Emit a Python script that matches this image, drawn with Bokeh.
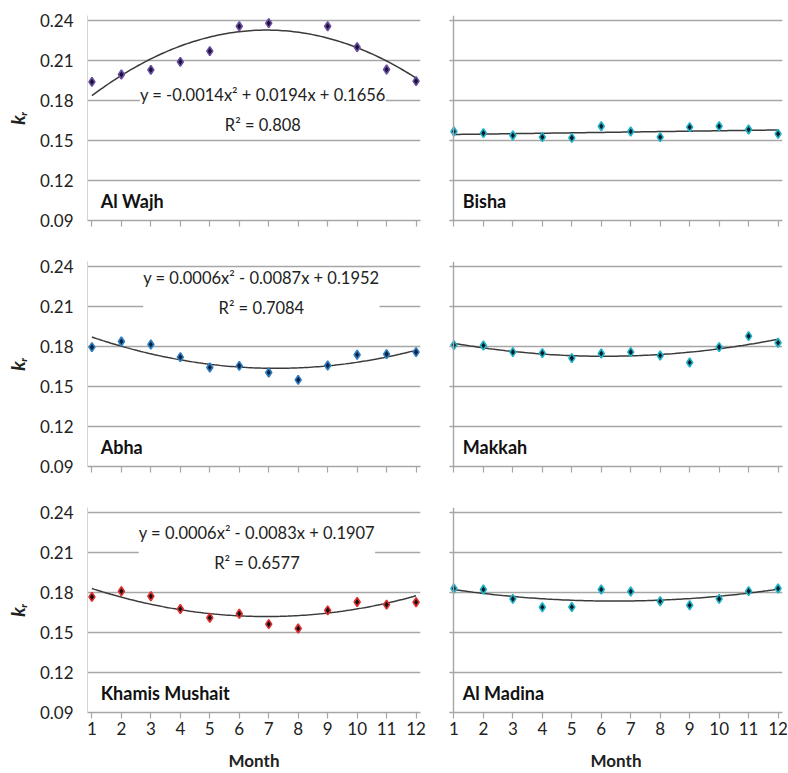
import numpy as np
from bokeh.plotting import figure
from bokeh.layouts import gridplot
from bokeh.models import Range1d, FixedTicker, Label
from bokeh.embed import file_html
from bokeh.resources import INLINE

# ---------------- data ----------------
months = [1, 2, 3, 4, 5, 6, 7, 8, 9, 10, 11, 12]
month_labels = ["1", "2", "3", "4", "5", "6", "7", "8", "9", "10", "11", "12"]
y_ticks = [0.09, 0.12, 0.15, 0.18, 0.21, 0.24]
y_tick_labels = ["0.09", "0.12", "0.15", "0.18", "0.21", "0.24"]

al_wajh = [0.194, 0.1995, 0.203, 0.209, 0.217, 0.2357, 0.238, float("nan"),
           0.2357, 0.220, 0.2033, 0.1945]
bisha = [0.1568, 0.1555, 0.1538, 0.1525, 0.152, 0.1607, 0.1568, 0.1525,
         0.160, 0.1607, 0.1583, 0.155]
abha = [0.1795, 0.1838, 0.1815, 0.172, 0.1643, 0.1655, 0.1605, 0.155,
        0.1658, 0.1738, 0.1743, 0.1758]
makkah = [0.181, 0.1808, 0.1758, 0.175, 0.1713, 0.1748, 0.1758, 0.1733,
          0.168, 0.1795, 0.1878, 0.1828]
khamis = [0.1767, 0.1809, 0.1772, 0.1676, 0.1611, 0.1641, 0.1563, 0.153,
          0.1666, 0.1729, 0.1709, 0.1727]
al_madina = [0.183, 0.1822, 0.1752, 0.1689, 0.1691, 0.1822, 0.1807, 0.1734,
             0.1704, 0.1752, 0.181, 0.183]

# trendline coefficients printed on the chart (a, b, c of a x^2 + b x + c)
coef_al_wajh = [-0.0014, 0.0194, 0.1656]
coef_abha = [0.0006, -0.0087, 0.1952]
coef_khamis = [0.0006, -0.0083, 0.1907]

eq_al_wajh = "y = -0.0014x² + 0.0194x + 0.1656\nR² = 0.808"
eq_abha = "y = 0.0006x² - 0.0087x + 0.1952\nR² = 0.7084"
eq_khamis = "y = 0.0006x² - 0.0083x + 0.1907\nR² = 0.6577"

stations = ["Al Wajh", "Bisha", "Abha", "Makkah", "Khamis Mushait", "Al Madina"]

FONT = "Lato"
GRID = "#a6a6a6"


def fit_coefs(vals, deg):
    x = np.array(months, dtype=float)
    y = np.array(vals, dtype=float)
    m = ~np.isnan(y)
    c = np.polyfit(x[m], y[m], deg)
    if deg == 1:
        c = np.concatenate([[0.0], c])
    return list(c)


def panel(vals, coefs, name, fill, edge, left, bottom, eq=None, eq_pos=None):
    pad_x = 0.15
    pad_y = 0.00375
    if left:
        width, mbl, mbr = 430, 87, 10
    else:
        width, mbl, mbr = 358, 19, 6
    height = 281 if bottom else 246
    mbb = 61 if bottom else 26
    p = figure(width=width, height=height, output_backend="svg",
               toolbar_location=None,
               x_range=Range1d(months[0] - pad_x, months[-1] + pad_x),
               y_range=Range1d(y_ticks[0], y_ticks[-1] + pad_y),
               min_border_left=mbl, min_border_right=mbr,
               min_border_top=15, min_border_bottom=mbb)
    p.outline_line_color = None
    p.background_fill_color = "white"
    p.border_fill_color = "white"
    p.xgrid.visible = False
    p.ygrid.ticker = FixedTicker(ticks=y_ticks)
    p.ygrid.grid_line_color = GRID
    p.ygrid.grid_line_width = 1.4

    # x axis
    xa = p.xaxis[0]
    xa.ticker = FixedTicker(ticks=months)
    xa.major_label_overrides = {m: l for m, l in zip(months, month_labels)}
    xa.axis_line_color = GRID
    xa.axis_line_width = 1.4
    xa.major_tick_line_color = GRID
    xa.major_tick_line_width = 1.2
    xa.major_tick_in = 0
    xa.major_tick_out = 6
    xa.minor_tick_line_color = None
    xa.major_label_text_font = FONT
    if bottom:
        xa.major_label_text_font_size = "17px"
        xa.major_label_text_color = "#222222"
        xa.major_label_standoff = 3
        xa.axis_label = "Month"
        xa.axis_label_text_font = FONT
        xa.axis_label_text_font_style = "bold"
        xa.axis_label_text_font_size = "17px"
        xa.axis_label_text_color = "#222222"
        xa.axis_label_standoff = 12
    else:
        xa.major_label_text_font_size = "6px"
        xa.major_label_text_alpha = 0
        xa.major_label_standoff = 2

    # y axis
    ya = p.yaxis[0]
    ya.ticker = FixedTicker(ticks=y_ticks)
    ya.major_label_overrides = {t: l for t, l in zip(y_ticks, y_tick_labels)}
    ya.minor_tick_line_color = None
    ya.major_tick_in = 0
    ya.major_tick_out = 5
    if left:
        ya.axis_line_color = "#d4d4d4"
        ya.major_tick_line_color = None
        ya.major_label_text_font = FONT
        ya.major_label_text_font_size = "17px"
        ya.major_label_text_color = "#222222"
        ya.major_label_standoff = 9
        ya.axis_label = "kᵣ"
        ya.axis_label_text_font = FONT
        ya.axis_label_text_font_style = "bold italic"
        ya.axis_label_text_font_size = "19px"
        ya.axis_label_text_color = "#222222"
        ya.axis_label_standoff = 8
    else:
        ya.fixed_location = months[0]
        ya.axis_line_color = GRID
        ya.axis_line_width = 1.4
        ya.major_tick_line_color = GRID
        ya.major_tick_line_width = 1.2
        ya.major_label_text_font_size = "1px"
        ya.major_label_text_alpha = 0
        ya.major_label_standoff = 0

    # trendline
    xs = np.linspace(months[0], months[-1], 120)
    ys = coefs[0] * xs ** 2 + coefs[1] * xs + coefs[2]
    p.line(xs, ys, line_color="#3a3a3a", line_width=1.5)

    # points
    p.scatter(months, vals, marker="diamond", size=9, fill_color=fill,
              line_color=edge, line_width=1.6)

    # equation box
    if eq is not None:
        p.add_layout(Label(x=eq_pos[0], y=eq_pos[1], text=eq,
                           text_align="center", text_baseline="top",
                           text_font=FONT, text_font_size="16.5px",
                           text_color="#222222", text_line_height=1.5,
                           background_fill_color="white"))

    # station name
    p.add_layout(Label(x=months[0] + 0.3, y=y_ticks[0] + 0.0145, text=name,
                       text_align="left", text_baseline="middle",
                       text_font=FONT, text_font_style="bold",
                       text_font_size="18px", text_color="#111111",
                       background_fill_color="white"))
    return p


p1 = panel(al_wajh, coef_al_wajh, stations[0], "#1c1038", "#6b4fa3", True, False,
           eq_al_wajh, (6.8, 0.1913))
p2 = panel(bisha, fit_coefs(bisha, 1), stations[1], "#0a1a28", "#1fb3c8", False, False)
p3 = panel(abha, coef_abha, stations[2], "#0c213f", "#2f7fc1", True, False,
           eq_abha, (6.75, 0.2387))
p4 = panel(makkah, fit_coefs(makkah, 2), stations[3], "#0a1a28", "#1fb3c8", False, False)
p5 = panel(khamis, coef_khamis, stations[4], "#111111", "#e03030", True, True,
           eq_khamis, (6.6, 0.2322))
p6 = panel(al_madina, fit_coefs(al_madina, 2), stations[5], "#0a1a28", "#1fb3c8", False, True)

grid = gridplot([[p1, p2], [p3, p4], [p5, p6]], toolbar_location=None)

open("out.html", "w").write(file_html(grid, INLINE))
